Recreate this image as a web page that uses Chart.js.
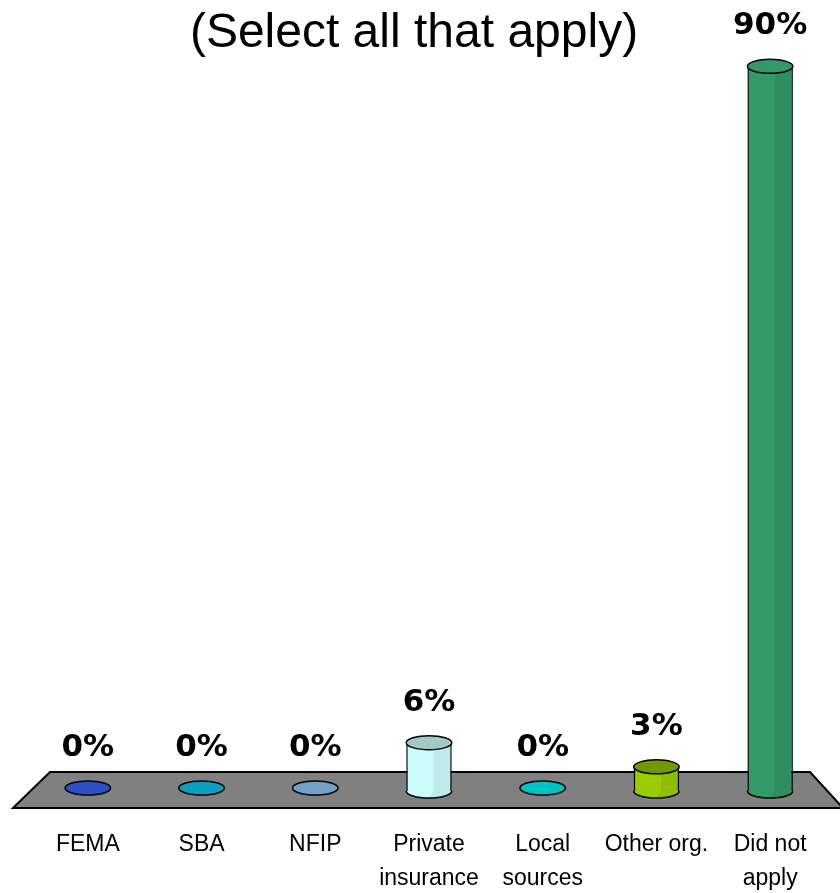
<!DOCTYPE html>
<html>
<head>
<meta charset="utf-8">
<script src="https://cdn.jsdelivr.net/npm/chart.js@4.4.1/dist/chart.umd.min.js"></script>
<style>
    body { margin: 0; background: #fff; }
    #wrap { width: 840px; height: 893px; position: relative; }
</style>
</head>
<body>
<div id="wrap"><canvas id="helpChart"></canvas></div>
<script>
// Chart values
const categories = [["FEMA"], ["SBA"], ["NFIP"], ["Private", "insurance"], ["Local", "sources"], ["Other org."], ["Did not", "apply"]];
const percentValues = [0, 0, 0, 6, 0, 3, 90];
const barColors = ['#2b4fc6', '#0d9fc0', '#72a0c6', '#ccfcfc', '#00c2c2', '#99cc00', '#339966'];
const capColors = ['#2b4fc6', '#0d9fc0', '#72a0c6', '#a2c8c8', '#00c2c2', '#6f9900', '#339966'];
const chartTitle = '(Select all that apply)';

// Gray floor under the bars
const floorPlugin = {
    id: 'floor',
    beforeDatasetsDraw(chart) {
        const ctx = chart.ctx;
        const area = chart.chartArea;
        const base = chart.scales.y.getPixelForValue(0);
        ctx.save();
        ctx.beginPath();
        ctx.moveTo(area.left + 19, base - 19);
        ctx.lineTo(area.right - 17, base - 19);
        ctx.lineTo(area.right + 16, base + 17);
        ctx.lineTo(area.left - 18, base + 17);
        ctx.closePath();
        ctx.fillStyle = '#808080';
        ctx.fill();
        ctx.lineWidth = 2;
        ctx.strokeStyle = '#000';
        ctx.stroke();
        ctx.restore();
    }
};

// Cylinder caps, value labels and the title
const cylinderPlugin = {
    id: 'cylinder',
    afterDatasetsDraw(chart) {
        const ctx = chart.ctx;
        const meta = chart.getDatasetMeta(0);
        const base = chart.scales.y.getPixelForValue(0);
        const ry = 7;
        ctx.save();
        meta.data.forEach((bar, i) => {
            const half = bar.width / 2;
            const top = bar.y;
            ctx.lineWidth = 1.5;
            ctx.strokeStyle = '#000';
            if (percentValues[i] > 0) {
                // darker right side
                ctx.fillStyle = 'rgba(0,0,0,0.07)';
                ctx.fillRect(bar.x + half * 0.2, top, half * 0.8, base - top);
                // bottom half ellipse
                ctx.beginPath();
                ctx.ellipse(bar.x, base, half, ry, 0, 0, Math.PI);
                ctx.fillStyle = barColors[i];
                ctx.fill();
                ctx.stroke();
                ctx.fillStyle = 'rgba(0,0,0,0.07)';
                ctx.beginPath();
                ctx.ellipse(bar.x, base, half, ry, 0, 0, Math.PI / 2);
                ctx.lineTo(bar.x + half * 0.2, base);
                ctx.fill();
                // top cap
                ctx.beginPath();
                ctx.ellipse(bar.x, top, half, ry, 0, 0, Math.PI * 2);
                ctx.fillStyle = capColors[i];
                ctx.fill();
                ctx.stroke();
            } else {
                ctx.beginPath();
                ctx.ellipse(bar.x, base - 3, half, ry, 0, 0, Math.PI * 2);
                ctx.fillStyle = barColors[i];
                ctx.fill();
                ctx.stroke();
            }
            // value label
            ctx.fillStyle = '#000';
            ctx.font = 'bold 31px "DejaVu Sans", Verdana, sans-serif';
            ctx.textAlign = 'center';
            ctx.textBaseline = 'middle';
            const capY = percentValues[i] > 0 ? top : base - 3;
            ctx.fillText(percentValues[i] + '%', bar.x, capY - 40);
        });
        // title
        ctx.font = '48px "Liberation Sans", Arial, sans-serif';
        ctx.textAlign = 'center';
        ctx.textBaseline = 'middle';
        ctx.fillStyle = '#000';
        ctx.fillText(chartTitle, 414, 34);
        ctx.restore();
    }
};

const helpData = {
    labels: categories,
    datasets: [{
        label: 'Percent',
        data: percentValues,
        backgroundColor: barColors,
        borderColor: '#000',
        borderWidth: { left: 1.5, right: 1.5, top: 0, bottom: 0 },
        borderSkipped: false,
        barPercentage: 0.4,
        categoryPercentage: 1
    }]
};

const helpConfig = {
    type: 'bar',
    data: helpData,
    options: {
        responsive: true,
        maintainAspectRatio: false,
        animation: false,
        layout: {
            padding: { top: 18, left: 31, right: 13, bottom: -39 }
        },
        scales: {
            y: {
                display: false,
                min: 0,
                max: 96
            },
            x: {
                grid: { display: false, drawTicks: false },
                border: { display: false },
                // keep the tick padding from widening the side margins
                afterFit(scale) {
                    scale.paddingLeft = 0;
                    scale.paddingRight = 0;
                },
                ticks: {
                    color: '#000',
                    padding: 36,
                    maxRotation: 0,
                    autoSkip: false,
                    font: {
                        family: "'Liberation Sans', Arial, sans-serif",
                        size: 23,
                        lineHeight: 1.5
                    }
                }
            }
        },
        plugins: {
            legend: { display: false },
            tooltip: { enabled: false }
        }
    },
    plugins: [floorPlugin, cylinderPlugin]
};

// Render the chart
const helpChart = new Chart(
    document.getElementById('helpChart'),
    helpConfig
);
</script>
</body>
</html>
